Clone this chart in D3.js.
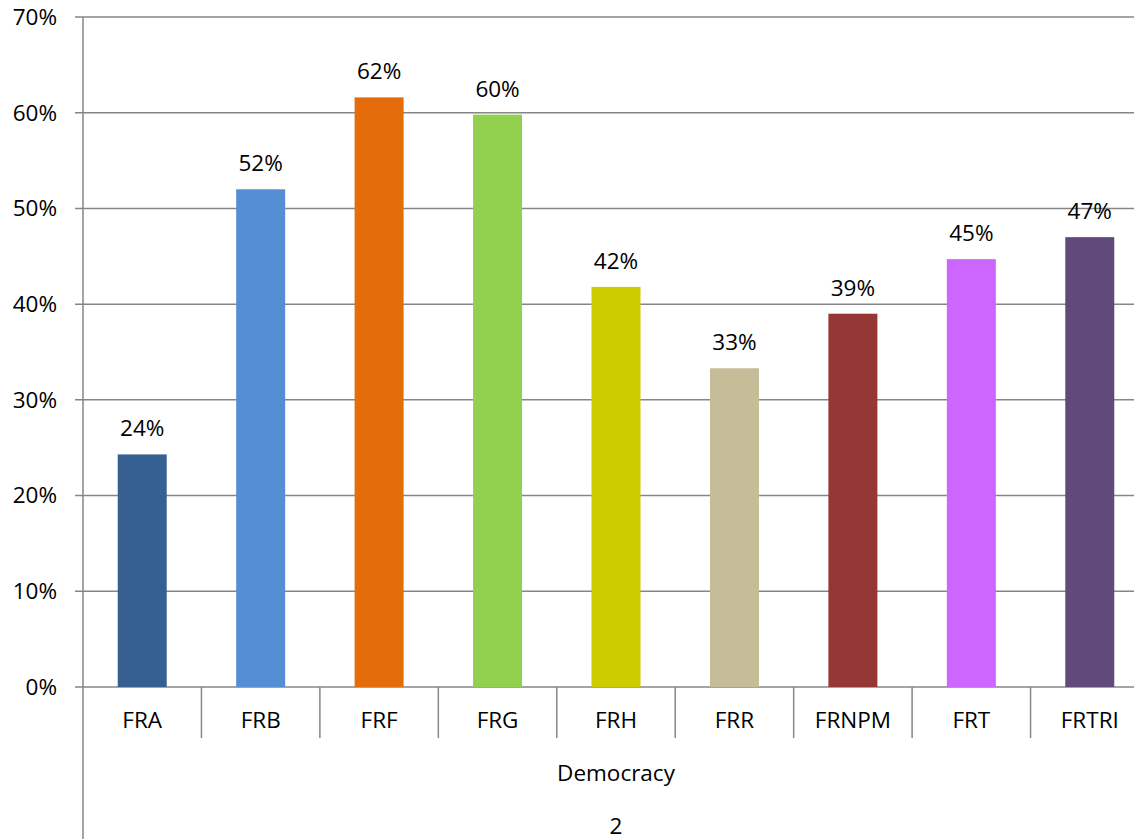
<!DOCTYPE html>
<html>
<head>
<script src="https://d3js.org/d3.v7.min.js"></script>
<style>
  body { margin: 0; background: #fff; }
  text { font-family: "Open Sans", "Liberation Sans", sans-serif; fill: #000; }
</style>
</head>
<body>
<div id="chart"></div>
<script>
var categories = ["FRA", "FRB", "FRF", "FRG", "FRH", "FRR", "FRNPM", "FRT", "FRTRI"];
var values = [0.243, 0.520, 0.616, 0.598, 0.418, 0.333, 0.390, 0.447, 0.470];
var colors = ["#366092", "#558ED5", "#E46C0A", "#92D050", "#CCCC00", "#C4BD97", "#953735", "#CC66FF", "#604A7B"];
var yTicks = [0, 0.1, 0.2, 0.3, 0.4, 0.5, 0.6, 0.7];
var groupLabel = "Democracy";
var outerLabel = "2";

var width = 1134, height = 839;
var mLeft = 83, mRight = 1149, mTop = 17, mBottom = 687;
var fontSize = "22.5px";

var svg = d3.select("#chart").append("svg")
  .attr("width", width)
  .attr("height", height);

var x = d3.scaleBand()
  .domain(categories)
  .range([mLeft, mRight]);

var y = d3.scaleLinear()
  .domain([0, 0.7])
  .range([mBottom, mTop]);

var axisColor = "#868686";

// gridlines
svg.append("g")
  .selectAll("line")
  .data(yTicks)
  .enter().append("line")
    .attr("x1", mLeft - 8)
    .attr("x2", mRight)
    .attr("y1", function(d) { return y(d); })
    .attr("y2", function(d) { return y(d); })
    .attr("stroke", axisColor)
    .attr("stroke-width", 1.5);

// y labels
svg.append("g")
  .selectAll("text")
  .data(yTicks)
  .enter().append("text")
    .attr("x", 57)
    .attr("y", function(d) { return y(d); })
    .attr("dy", "0.35em")
    .attr("text-anchor", "end")
    .style("font-size", fontSize)
    .text(d3.format(".0%"));

// bars
var barW = 49;
svg.append("g")
  .selectAll("rect")
  .data(categories)
  .enter().append("rect")
    .attr("x", function(d) { return x(d) + x.bandwidth() / 2 - barW / 2; })
    .attr("y", function(d, i) { return y(values[i]); })
    .attr("width", barW)
    .attr("height", function(d, i) { return mBottom - y(values[i]); })
    .attr("fill", function(d, i) { return colors[i]; });

// value labels
svg.append("g")
  .selectAll("text")
  .data(categories)
  .enter().append("text")
    .attr("x", function(d) { return x(d) + x.bandwidth() / 2; })
    .attr("y", function(d, i) { return y(values[i]) - 18; })
    .attr("text-anchor", "middle")
    .style("font-size", fontSize)
    .text(function(d, i) { return d3.format(".0%")(values[i]); });

// y axis line, running down through the category rows
svg.append("line")
  .attr("x1", mLeft).attr("x2", mLeft)
  .attr("y1", mTop).attr("y2", height)
  .attr("stroke", axisColor)
  .attr("stroke-width", 1.5);

// category separators
svg.append("g")
  .selectAll("line")
  .data(categories.slice(1))
  .enter().append("line")
    .attr("x1", function(d) { return x(d); })
    .attr("x2", function(d) { return x(d); })
    .attr("y1", mBottom)
    .attr("y2", 738)
    .attr("stroke", axisColor)
    .attr("stroke-width", 1.5);

// category labels
svg.append("g")
  .selectAll("text")
  .data(categories)
  .enter().append("text")
    .attr("x", function(d) { return x(d) + x.bandwidth() / 2; })
    .attr("y", 720)
    .attr("dy", "0.35em")
    .attr("text-anchor", "middle")
    .style("font-size", fontSize)
    .text(function(d) { return d; });

svg.append("text")
  .attr("x", (mLeft + mRight) / 2)
  .attr("y", 773)
  .attr("dy", "0.35em")
  .attr("text-anchor", "middle")
  .style("font-size", fontSize)
  .text(groupLabel);

svg.append("text")
  .attr("x", (mLeft + mRight) / 2)
  .attr("y", 826)
  .attr("dy", "0.35em")
  .attr("text-anchor", "middle")
  .style("font-size", fontSize)
  .text(outerLabel);
</script>
</body>
</html>
